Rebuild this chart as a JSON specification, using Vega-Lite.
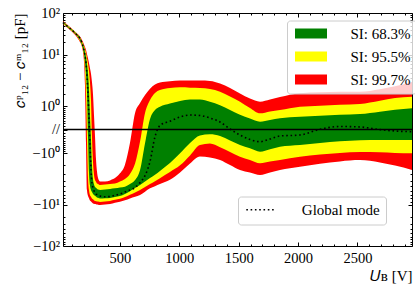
{
  "$schema": "https://vega.github.io/schema/vega-lite/v6.json",
  "width": 349,
  "height": 233,
  "autosize": {"type": "none"},
  "padding": {"left": 63, "top": 13, "right": 3, "bottom": 45},
  "background": "white",
  "config": {
    "view": {"stroke": "black", "strokeWidth": 1},
    "font": "Liberation Serif",
    "axis": {
      "labelFont": "Liberation Serif", "labelFontSize": 14.5, "labelColor": "black",
      "titleFont": "Liberation Serif", "titleFontSize": 15, "titleColor": "black", "titleFontWeight": "normal",
      "tickColor": "black", "tickWidth": 1, "grid": false, "domain": false, "zindex": 1
    }
  },
  "data": {"values": [
    {"U":20,"r_hi":64.9,"y_hi":63.1,"g_hi":61.4,"mode":59.8,"g_lo":58.2,"y_lo":56.6,"r_lo":55.1},
    {"U":79,"r_hi":46.8,"y_hi":45.5,"g_hi":44.3,"mode":43.1,"g_lo":42.0,"y_lo":40.8,"r_lo":39.7},
    {"U":130,"r_hi":34.6,"y_hi":33.7,"g_hi":32.8,"mode":31.9,"g_lo":31.0,"y_lo":30.2,"r_lo":28.6},
    {"U":163,"r_hi":27.8,"y_hi":26.3,"g_hi":25.6,"mode":24.9,"g_lo":22.9,"y_lo":21.6,"r_lo":20.4},
    {"U":180,"r_hi":22.9,"y_hi":21.0,"g_hi":19.9,"mode":19.3,"g_lo":17.3,"y_lo":16.3,"r_lo":15.4},
    {"U":197,"r_hi":17.8,"y_hi":16.3,"g_hi":14.6,"mode":13.0,"g_lo":10.3,"y_lo":9.13,"r_lo":7.58},
    {"U":205,"r_hi":15.4,"y_hi":13.8,"g_hi":11.6,"mode":9.82,"g_lo":7.58,"y_lo":5.58,"r_lo":3.01},
    {"U":214,"r_hi":13.0,"y_hi":10.9,"g_hi":9.13,"mode":7.30,"g_lo":4.58,"y_lo":1.88,"r_lo":-0.568},
    {"U":222,"r_hi":10.3,"y_hi":8.80,"g_hi":7.03,"mode":4.58,"g_lo":2.18,"y_lo":-0.293,"r_lo":-5.81},
    {"U":231,"r_hi":8.64,"y_hi":7.03,"g_hi":4.77,"mode":1.88,"g_lo":-0.293,"y_lo":-3.69,"r_lo":-7.30},
    {"U":239,"r_hi":7.30,"y_hi":5.37,"g_hi":2.40,"mode":0.359,"g_lo":-2.81,"y_lo":-5.86,"r_lo":-7.94},
    {"U":247,"r_hi":6.04,"y_hi":3.43,"g_hi":0.538,"mode":-0.538,"g_lo":-4.82,"y_lo":-7.01,"r_lo":-8.64},
    {"U":256,"r_hi":4.77,"y_hi":1.44,"g_hi":-0.353,"mode":-2.51,"g_lo":-5.81,"y_lo":-7.50,"r_lo":-8.96},
    {"U":264,"r_hi":3.43,"y_hi":-0.208,"g_hi":-1.98,"mode":-4.40,"g_lo":-6.27,"y_lo":-8.02,"r_lo":-9.29},
    {"U":273,"r_hi":1.88,"y_hi":-1.75,"g_hi":-3.82,"mode":-5.31,"g_lo":-6.77,"y_lo":-8.26,"r_lo":-9.64},
    {"U":281,"r_hi":0.534,"y_hi":-3.10,"g_hi":-4.62,"mode":-5.99,"g_lo":-7.01,"y_lo":-8.54,"r_lo":-9.73},
    {"U":290,"r_hi":-0.255,"y_hi":-3.89,"g_hi":-5.16,"mode":-6.37,"g_lo":-7.23,"y_lo":-8.80,"r_lo":-9.82},
    {"U":298,"r_hi":-1.44,"y_hi":-4.18,"g_hi":-5.33,"mode":-6.77,"g_lo":-7.47,"y_lo":-8.86,"r_lo":-9.91},
    {"U":306,"r_hi":-2.67,"y_hi":-4.49,"g_hi":-5.52,"mode":-6.90,"g_lo":-7.72,"y_lo":-8.93,"r_lo":-10.0},
    {"U":315,"r_hi":-3.58,"y_hi":-4.58,"g_hi":-5.70,"mode":-7.03,"g_lo":-7.81,"y_lo":-8.99,"r_lo":-10.12},
    {"U":332,"r_hi":-4.14,"y_hi":-4.77,"g_hi":-5.81,"mode":-7.30,"g_lo":-8.02,"y_lo":-9.13,"r_lo":-10.3},
    {"U":374,"r_hi":-4.14,"y_hi":-4.67,"g_hi":-5.70,"mode":-7.52,"g_lo":-7.94,"y_lo":-8.96,"r_lo":-10.0},
    {"U":416,"r_hi":-3.95,"y_hi":-4.58,"g_hi":-5.58,"mode":-7.44,"g_lo":-7.87,"y_lo":-8.80,"r_lo":-9.82},
    {"U":458,"r_hi":-3.59,"y_hi":-4.49,"g_hi":-5.43,"mode":-7.10,"g_lo":-7.58,"y_lo":-8.43,"r_lo":-9.40},
    {"U":500,"r_hi":-2.92,"y_hi":-4.15,"g_hi":-5.27,"mode":-6.77,"g_lo":-7.30,"y_lo":-8.08,"r_lo":-9.03},
    {"U":542,"r_hi":-1.94,"y_hi":-3.73,"g_hi":-5.12,"mode":-6.27,"g_lo":-6.74,"y_lo":-7.61,"r_lo":-8.57},
    {"U":584,"r_hi":-0.49,"y_hi":-3.01,"g_hi":-4.60,"mode":-5.81,"g_lo":-6.08,"y_lo":-6.95,"r_lo":-8.02},
    {"U":627,"r_hi":0.627,"y_hi":-1.83,"g_hi":-3.89,"mode":-5.29,"g_lo":-5.39,"y_lo":-6.37,"r_lo":-7.52},
    {"U":669,"r_hi":1.21,"y_hi":-0.425,"g_hi":-2.51,"mode":-4.33,"g_lo":-4.77,"y_lo":-5.81,"r_lo":-7.03},
    {"U":711,"r_hi":1.87,"y_hi":0.627,"g_hi":-0.498,"mode":-3.24,"g_lo":-4.15,"y_lo":-5.18,"r_lo":-6.19},
    {"U":753,"r_hi":2.55,"y_hi":1.44,"g_hi":0.363,"mode":-1.65,"g_lo":-3.59,"y_lo":-4.60,"r_lo":-5.43},
    {"U":795,"r_hi":3.09,"y_hi":2.08,"g_hi":0.78,"mode":-0.237,"g_lo":-3.10,"y_lo":-4.09,"r_lo":-5.00},
    {"U":837,"r_hi":3.35,"y_hi":2.40,"g_hi":0.96,"mode":0.125,"g_lo":-2.62,"y_lo":-3.60,"r_lo":-4.58},
    {"U":921,"r_hi":3.53,"y_hi":2.63,"g_hi":1.17,"mode":0.277,"g_lo":-1.78,"y_lo":-2.75,"r_lo":-3.84},
    {"U":1006,"r_hi":3.65,"y_hi":2.71,"g_hi":1.36,"mode":0.446,"g_lo":-1.02,"y_lo":-2.01,"r_lo":-2.80},
    {"U":1090,"r_hi":3.65,"y_hi":2.67,"g_hi":1.48,"mode":0.534,"g_lo":-0.489,"y_lo":-1.17,"r_lo":-1.82},
    {"U":1174,"r_hi":3.65,"y_hi":2.63,"g_hi":1.48,"mode":0.511,"g_lo":-0.194,"y_lo":-0.58,"r_lo":-1.24},
    {"U":1258,"r_hi":3.58,"y_hi":2.51,"g_hi":1.30,"mode":0.404,"g_lo":-0.152,"y_lo":-0.511,"r_lo":-1.32},
    {"U":1343,"r_hi":3.21,"y_hi":2.21,"g_hi":1.05,"mode":0.248,"g_lo":-0.211,"y_lo":-0.691,"r_lo":-1.52},
    {"U":1427,"r_hi":2.63,"y_hi":1.74,"g_hi":0.78,"mode":0.015,"g_lo":-0.383,"y_lo":-0.942,"r_lo":-1.98},
    {"U":1511,"r_hi":2.03,"y_hi":1.31,"g_hi":0.547,"mode":-0.176,"g_lo":-0.58,"y_lo":-1.26,"r_lo":-2.51},
    {"U":1595,"r_hi":1.56,"y_hi":0.886,"g_hi":0.379,"mode":-0.343,"g_lo":-0.744,"y_lo":-1.52,"r_lo":-2.81},
    {"U":1680,"r_hi":1.31,"y_hi":0.61,"g_hi":0.259,"mode":-0.433,"g_lo":-0.925,"y_lo":-1.81,"r_lo":-3.14},
    {"U":1764,"r_hi":1.48,"y_hi":0.70,"g_hi":0.323,"mode":-0.323,"g_lo":-0.788,"y_lo":-1.66,"r_lo":-2.81},
    {"U":1848,"r_hi":1.69,"y_hi":0.78,"g_hi":0.392,"mode":-0.211,"g_lo":-0.661,"y_lo":-1.52,"r_lo":-2.51},
    {"U":2016,"r_hi":2.05,"y_hi":0.96,"g_hi":0.459,"mode":-0.176,"g_lo":-0.58,"y_lo":-1.26,"r_lo":-2.15},
    {"U":2185,"r_hi":2.15,"y_hi":1.02,"g_hi":0.502,"mode":0.006,"g_lo":-0.489,"y_lo":-1.11,"r_lo":-1.85},
    {"U":2353,"r_hi":2.21,"y_hi":1.09,"g_hi":0.55,"mode":0.093,"g_lo":-0.418,"y_lo":-1.0,"r_lo":-1.64},
    {"U":2522,"r_hi":2.21,"y_hi":1.14,"g_hi":0.58,"mode":0.077,"g_lo":-0.377,"y_lo":-0.942,"r_lo":-1.53},
    {"U":2690,"r_hi":2.49,"y_hi":1.38,"g_hi":0.693,"mode":-0.003,"g_lo":-0.363,"y_lo":-0.96,"r_lo":-1.74},
    {"U":2817,"r_hi":2.85,"y_hi":1.60,"g_hi":0.788,"mode":-0.045,"g_lo":-0.363,"y_lo":-1.0,"r_lo":-2.03},
    {"U":2960,"r_hi":3.43,"y_hi":1.72,"g_hi":0.869,"mode":-0.067,"g_lo":-0.363,"y_lo":-1.02,"r_lo":-2.51}
  ]},
  "resolve": {"axis": {"x": "independent", "y": "independent"}},
  "layer": [
    {
      "mark": {"type": "area", "interpolate": "monotone", "opacity": 1},
      "encoding": {
        "x": {"field": "U", "type": "quantitative",
          "scale": {"domain": [20, 2960], "nice": false, "zero": false},
          "axis": {"orient": "bottom", "values": [500, 1000, 1500, 2000, 2500], "format": "d", "tickSize": -4, "labelPadding": 9, "title": "𝑈ʙ [V]", "titleAnchor": "end", "titlePadding": 4}},
        "y": {"field": "r_hi", "type": "quantitative",
          "scale": {"type": "symlog", "constant": 1, "domain": [-100, -10, -1, 0, 1, 10, 100], "range": [233, 191.5, 140, 116.5, 93, 41.5, 0], "nice": false, "zero": false},
          "axis": {"orient": "left", "values": [-100, -10, -1, 0, 1, 10, 100], "tickSize": -4, "labelPadding": 7.5,
            "labelExpr": "datum.value == 100 ? '10²' : datum.value == 10 ? '10¹' : datum.value == 1 ? '10⁰' : datum.value == 0 ? '//' : datum.value == -1 ? '−10⁰' : datum.value == -10 ? '−10¹' : '−10²'",
            "title": "𝑐ᵖ₁₂ − 𝑐ᵐ₁₂ [pF]", "titleAnchor": "end", "titlePadding": 4}},
        "y2": {"field": "r_lo"},
        "color": {"datum": "SI: 99.7%", "type": "nominal",
          "scale": {"domain": ["SI: 68.3%", "SI: 95.5%", "SI: 99.7%"], "range": ["#008000", "#ffff00", "#ff0000"]},
          "legend": {"orient": "none", "legendX": 224, "legendY": 7.5, "title": null,
            "symbolType": "M-3.2,-1H3.2V1H-3.2Z", "symbolSize": 100, "symbolStrokeWidth": 0, "symbolOpacity": 1,
            "symbolOffset": 11, "labelOffset": 32, "rowPadding": 7, "padding": 5.5,
            "labelFont": "Liberation Serif", "labelFontSize": 15, "labelColor": "black",
            "fillColor": "rgba(255,255,255,0.8)", "strokeColor": "#cccccc", "cornerRadius": 3}}
      }
    },
    {
      "mark": {"type": "area", "interpolate": "monotone", "opacity": 1},
      "encoding": {
        "x": {"field": "U", "type": "quantitative",
          "axis": {"orient": "bottom", "values": [100,200,300,400,600,700,800,900,1100,1200,1300,1400,1600,1700,1800,1900,2100,2200,2300,2400,2600,2700,2800,2900], "tickSize": -2, "labels": false, "title": null}},
        "y": {"field": "y_hi", "type": "quantitative",
          "axis": {"orient": "left", "values": [-90,-80,-70,-60,-50,-40,-30,-20,-9,-8,-7,-6,-5,-4,-3,-2,-0.9,-0.8,-0.7,-0.6,-0.5,-0.4,-0.3,-0.2,-0.1,0.1,0.2,0.3,0.4,0.5,0.6,0.7,0.8,0.9,2,3,4,5,6,7,8,9,20,30,40,50,60,70,80,90], "tickSize": -2, "labels": false, "title": null}},
        "y2": {"field": "y_lo"},
        "color": {"datum": "SI: 95.5%", "type": "nominal"}
      }
    },
    {
      "mark": {"type": "area", "interpolate": "monotone", "opacity": 1},
      "encoding": {
        "x": {"field": "U", "type": "quantitative",
          "axis": {"orient": "top", "values": [500, 1000, 1500, 2000, 2500], "tickSize": -4, "labels": false, "title": null}},
        "y": {"field": "g_hi", "type": "quantitative",
          "axis": {"orient": "right", "values": [-100, -10, -1, 0, 1, 10, 100], "tickSize": -4, "labels": false, "title": null}},
        "y2": {"field": "g_lo"},
        "color": {"datum": "SI: 68.3%", "type": "nominal"}
      }
    },
    {
      "data": {"values": [{}]},
      "mark": {"type": "rule", "color": "black", "strokeWidth": 1.5},
      "encoding": {
        "y": {"datum": 0, "type": "quantitative", "axis": null}
      }
    },
    {
      "mark": {"type": "line", "interpolate": "monotone", "color": "black", "strokeWidth": 1.6},
      "encoding": {
        "x": {"field": "U", "type": "quantitative",
          "axis": {"orient": "top", "values": [100,200,300,400,600,700,800,900,1100,1200,1300,1400,1600,1700,1800,1900,2100,2200,2300,2400,2600,2700,2800,2900], "tickSize": -2, "labels": false, "title": null}},
        "y": {"field": "mode", "type": "quantitative",
          "axis": {"orient": "right", "values": [-90,-80,-70,-60,-50,-40,-30,-20,-9,-8,-7,-6,-5,-4,-3,-2,-0.9,-0.8,-0.7,-0.6,-0.5,-0.4,-0.3,-0.2,-0.1,0.1,0.2,0.3,0.4,0.5,0.6,0.7,0.8,0.9,2,3,4,5,6,7,8,9,20,30,40,50,60,70,80,90], "tickSize": -2, "labels": false, "title": null}},
        "strokeDash": {"datum": "Global mode", "type": "nominal",
          "scale": {"domain": ["Global mode"], "range": [[1.6, 2.7]]},
          "legend": {"orient": "none", "legendX": 175, "legendY": 183.5, "title": null,
            "symbolType": "M-3,0H3", "symbolSize": 100, "symbolStrokeWidth": 1.6, "symbolStrokeColor": "black", "symbolFillColor": "transparent",
            "symbolOffset": 10, "labelOffset": 33, "padding": 5.8,
            "labelFont": "Liberation Serif", "labelFontSize": 15, "labelColor": "black",
            "fillColor": "rgba(255,255,255,0.8)", "strokeColor": "#cccccc", "cornerRadius": 3}}
      }
    }
  ]
}
